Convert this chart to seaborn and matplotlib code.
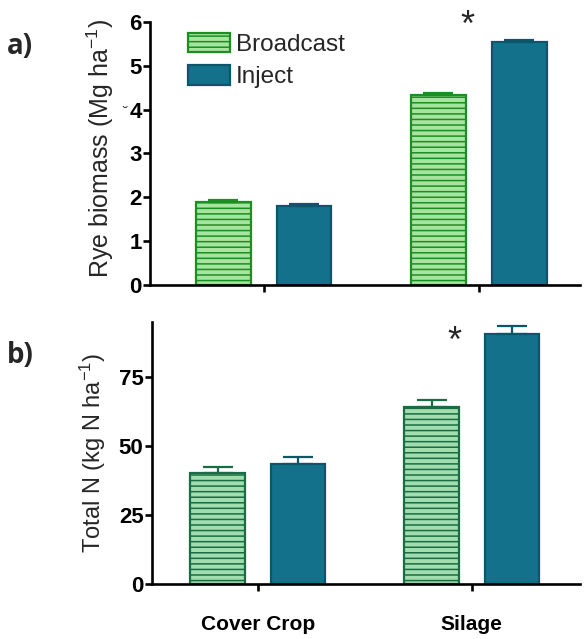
import matplotlib
matplotlib.use("Agg")
import matplotlib.pyplot as plt
from matplotlib.container import BarContainer
import seaborn as sns
import pandas as pd

# ---- data ----
crops = ["Cover Crop", "Silage"]
methods = ["Broadcast", "Inject"]
rye_broadcast = [1.89, 4.33]
rye_inject = [1.80, 5.55]
rye_broadcast_err = [0.06, 0.06]
rye_inject_err = [0.05, 0.05]
totn_broadcast = [40.2, 64.1]
totn_inject = [43.6, 90.8]
totn_broadcast_err = [2.3, 2.6]
totn_inject_err = [2.5, 2.6]
rye_yticks = [0, 1, 2, 3, 4, 5, 6]
totn_yticks = [0, 25, 50, 75]

sns.set_style("ticks")
plt.rcParams["font.family"] = ["Liberation Sans", "DejaVu Sans"]
plt.rcParams["mathtext.default"] = "regular"
plt.rcParams["hatch.linewidth"] = 1.1

def make_df(b, i):
    return pd.DataFrame({
        "crop": crops * 2,
        "method": [methods[0]] * 2 + [methods[1]] * 2,
        "value": list(b) + list(i),
    })

fig = plt.figure(figsize=(5.84, 6.39), dpi=100)
ax1 = fig.add_axes([0.257, 0.554, 0.736, 0.4116])
ax2 = fig.add_axes([0.260, 0.0861, 0.733, 0.410])

inject_fill = "#13718b"
inject_edge = "#0c566b"

def draw(ax, b, i, be, ie, bfill, bedge):
    df = make_df(b, i)
    sns.barplot(data=df, x="crop", y="value", hue="method", hue_order=methods,
                order=crops, palette=[bfill, inject_fill], width=0.75, gap=0.32,
                saturation=1, errorbar=None, legend=False, linewidth=1.6, ax=ax)
    edges = [bedge, inject_edge]
    errs = [be, ie]
    bar_conts = [c for c in ax.containers if isinstance(c, BarContainer)]
    for k, cont in enumerate(bar_conts):
        xs, hs = [], []
        for p in cont.patches:
            p.set_edgecolor(edges[k])
            p.set_linewidth(1.6)
            if k == 0:
                p.set_hatch("---")
            xs.append(p.get_x() + p.get_width() / 2)
            hs.append(p.get_height())
        ax.errorbar(xs, hs, yerr=[[0] * len(xs), errs[k]], fmt="none",
                    ecolor=edges[k], elinewidth=1.6, capsize=11, capthick=1.6,
                    zorder=1)
    for s in ["top", "right"]:
        ax.spines[s].set_visible(False)
    for s in ["left", "bottom"]:
        ax.spines[s].set_linewidth(1.9)
        ax.spines[s].set_color("black")
    ax.tick_params(axis="y", length=5, width=1.9, labelsize=16, pad=1, colors="black")
    ax.tick_params(axis="x", length=5, width=1.9, labelsize=15, colors="black")
    ax.set_xlabel("")
    return bar_conts

c1 = draw(ax1, rye_broadcast, rye_inject, rye_broadcast_err, rye_inject_err,
          "#a6e4a0", "#1d8e22")
c2 = draw(ax2, totn_broadcast, totn_inject, totn_broadcast_err, totn_inject_err,
          "#a2ddb0", "#1a6c42")

ax1.set_ylim(0, 6)
ax1.set_xlim(-0.528, 1.47)
ax1.set_yticks(rye_yticks)
ax1.set_xticks([0, 1])
ax1.set_xticklabels(["", ""])
ax2.set_ylim(0, 95)
ax2.set_xlim(-0.495, 1.505)
ax2.set_yticks(totn_yticks)
ax2.tick_params(axis="x", pad=17)

for ax in (ax1, ax2):
    for t in ax.get_yticklabels() + ax.get_xticklabels():
        t.set_fontweight("bold")

ax1.set_ylabel("Rye biomass (Mg ha$^{-1}$)", fontsize=18)
ax1.yaxis.set_label_coords(-0.079, 0.52)
ax2.set_ylabel("Total N (kg N ha$^{-1}$)", fontsize=17)
ax2.yaxis.set_label_coords(-0.102, 0.5)

# legend
handles = [c1[0].patches[0], c1[1].patches[0]]
ax1.legend(handles, methods, loc="upper left", bbox_to_anchor=(0.088, 0.96),
           frameon=False, fontsize=17.5, handlelength=1.75, handleheight=0.85,
           handletextpad=0.22, labelspacing=0.4, borderpad=0, borderaxespad=0)

# significance stars
ax1.text(0.947, 5.89, "*", fontsize=26, ha="center", va="center")
ax2.text(0.92, 87.7, "*", fontsize=26, ha="center", va="center")

# panel labels
fig.text(0.012, 0.928, "a)", fontsize=20, fontweight="bold",
         family=["Open Sans", "DejaVu Sans"], va="center")
fig.text(0.012, 0.443, "b)", fontsize=20, fontweight="bold",
         family=["Open Sans", "DejaVu Sans"], va="center")
fig.text(125 / 584, 1 - 113 / 639, "˘", fontsize=11, ha="center", va="center")

fig.savefig("out.png", dpi=100)
